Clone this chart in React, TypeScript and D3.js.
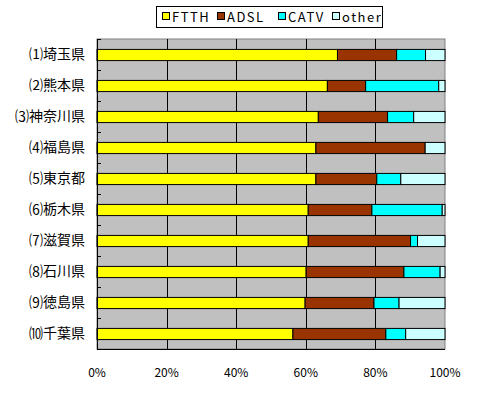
import React from 'react';
import * as d3 from 'd3';

const prefectures = ['⑴埼玉県', '⑵熊本県', '⑶神奈川県', '⑷福島県', '⑸東京都', '⑹栃木県', '⑺滋賀県', '⑻石川県', '⑼徳島県', '⑽千葉県'];
const seriesNames = ['FTTH', 'ADSL', 'CATV', 'other'];
const ftth = [69.1, 66.2, 63.6, 62.9, 62.9, 60.7, 60.7, 60.1, 59.8, 56.3];
const adsl = [17.0, 11.0, 19.9, 31.4, 17.5, 18.3, 29.4, 28.1, 19.8, 26.7];
const catv = [8.3, 21.0, 7.5, 0, 6.9, 20.2, 2.0, 10.4, 7.2, 5.7];
const other = [5.6, 1.8, 9.0, 5.7, 12.7, 0.8, 7.9, 1.4, 13.2, 11.3];
const xTicks = [0, 20, 40, 60, 80, 100];
const colors = ['#FFFF00', '#993300', '#00FFFF', '#CCFFFF'];

const font = '"Noto Sans CJK JP", "DejaVu Sans", sans-serif';

const App: React.FC = () => {
  const width = 480;
  const height = 393;
  const margin = { top: 39, right: 35, bottom: 44, left: 97 };
  const innerW = width - margin.left - margin.right;
  const innerH = height - margin.top - margin.bottom;

  const x = d3.scaleLinear().domain([0, 100]).range([0, innerW]);
  const y = d3.scaleBand().domain(prefectures).range([0, innerH]).paddingInner(0.64).paddingOuter(0.32);
  const band = d3.scaleBand().domain(prefectures).range([0, innerH]);

  const rows = prefectures.map((p, i) => ({ p, ftth: ftth[i], adsl: adsl[i], catv: catv[i], other: other[i] }));
  const stacked = d3.stack<any>().keys(['ftth', 'adsl', 'catv', 'other'])(rows);

  const legendX = [162, 217, 278, 332];

  return (
    <svg width={width} height={height} style={{ position: 'absolute', left: 0, top: 0, background: '#fff' }}>
      {/* legend */}
      <rect x={156.5} y={6.5} width={226} height={21} fill="#fff" stroke="#000" />
      {seriesNames.map((s, i) => (
        <g key={s}>
          <rect x={legendX[i] + 0.5} y={12.5} width={7} height={7} fill={colors[i]} stroke="#000" />
          <text x={legendX[i] + 10} y={21.5} fontFamily={font} fontSize={13} letterSpacing={1.5} fill="#000">{s}</text>
        </g>
      ))}

      <g transform={`translate(${margin.left},${margin.top})`}>
        <rect x={0} y={0} width={innerW} height={innerH} fill="#C0C0C0" stroke="#808080" />
        {xTicks.slice(1, -1).map(t => (
          <line key={t} x1={Math.round(x(t)) + 0.5} x2={Math.round(x(t)) + 0.5} y1={0} y2={innerH} stroke="#000" />
        ))}
        {stacked.map((layer, li) => (
          <g key={li}>
            {layer.map((d, i) => {
              const w = x(d[1]) - x(d[0]);
              if (w <= 0) return null;
              return (
                <rect key={i} x={x(d[0])} y={(y(prefectures[i]) || 0) + 0.5}
                  width={w} height={y.bandwidth()} fill={colors[li]} stroke="#000" strokeWidth={1} />
              );
            })}
          </g>
        ))}
        {/* axes */}
        <line x1={0.5} x2={0.5} y1={0} y2={innerH} stroke="#000" />
        <line x1={0} x2={innerW} y1={innerH + 0.5} y2={innerH + 0.5} stroke="#000" />
        {d3.range(prefectures.length + 1).map(i => {
          const ty = Math.round(i * band.step()) + 0.5;
          return <line key={i} x1={0} x2={4} y1={ty} y2={ty} stroke="#000" />;
        })}
        {prefectures.map(p => (
          <text key={p} x={-12} y={(band(p) || 0) + band.bandwidth() / 2} dy="0.35em"
            textAnchor="end" fontFamily={font} fontSize={14} fill="#000">{p}</text>
        ))}
        {xTicks.map(t => (
          <text key={t} x={x(t)} y={innerH + 28} textAnchor="middle" fontFamily={font} fontSize={12} fill="#000">{t}%</text>
        ))}
      </g>
    </svg>
  );
};

export default App;
